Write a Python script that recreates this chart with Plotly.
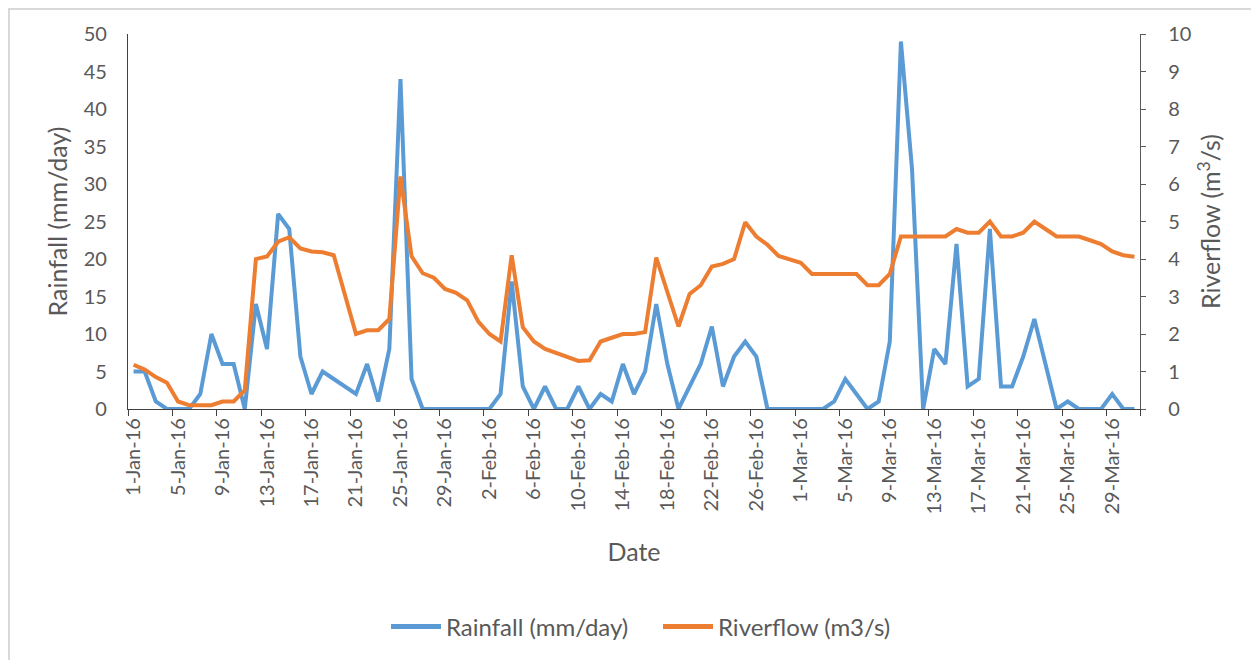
import plotly.graph_objects as go
import pandas as pd

# ---- data ----
dates = pd.date_range("2016-01-01", "2016-03-31", freq="D")

rainfall = [
    5, 5, 1, 0, 0, 0, 2, 10, 6, 6,
    0, 14, 8, 26, 24, 7, 2, 5, 4, 3,
    2, 6, 1, 8, 44, 4, 0, 0, 0, 0,
    0, 0, 0, 2, 17, 3, 0, 3, 0, 0,
    3, 0, 2, 1, 6, 2, 5, 14, 6, 0,
    3, 6, 11, 3, 7, 9, 7, 0, 0, 0,
    0, 0, 0, 1, 4, 2, 0, 1, 9, 49,
    32, 0, 8, 6, 22, 3, 4, 24, 3, 3,
    7, 12, 6, 0, 1, 0, 0, 0, 2, 0,
    0,
]

riverflow = [
    1.18, 1.05, 0.85, 0.7, 0.2, 0.1, 0.1, 0.1, 0.2, 0.2,
    0.5, 4.0, 4.07, 4.46, 4.58, 4.28, 4.2, 4.18, 4.1, 3.0,
    2.0, 2.1, 2.1, 2.4, 6.2, 4.07, 3.62, 3.5, 3.2, 3.1,
    2.9, 2.33, 2.0, 1.8, 4.1, 2.18, 1.8, 1.6, 1.5, 1.4,
    1.28, 1.3, 1.8, 1.9, 2.0, 2.0, 2.05, 4.04, 3.1, 2.2,
    3.07, 3.3, 3.8, 3.87, 4.0, 4.98, 4.6, 4.38, 4.08, 3.98,
    3.9, 3.6, 3.6, 3.6, 3.6, 3.6, 3.3, 3.3, 3.6, 4.6,
    4.6, 4.6, 4.6, 4.6, 4.8, 4.7, 4.7, 5.0, 4.6, 4.6,
    4.7, 5.0, 4.8, 4.6, 4.6, 4.6, 4.5, 4.4, 4.2, 4.1,
    4.06,
]

tick_dates = dates[::4]
tick_text = [f"{d.day}-{d.strftime('%b')}-16" for d in tick_dates]
half_day = pd.Timedelta(hours=12)
minor_ticks = [d - half_day for d in tick_dates] + [dates[-1] + half_day]

BLUE = "#5B9BD5"
ORANGE = "#ED7D31"
TXT = "#595959"
FONT = "Lato"

# The page body has an 8px default margin, so the figure starts at (8, 8).
OFF = 8
PAGE_W, PAGE_H = 1259, 662
W, H = PAGE_W - OFF, PAGE_H - OFF - 2
# plot-area edges in page pixels
L, R, T, B = 128, 1140, 34, 409


def px(x):
    return (x - L) / (R - L)


def py(y):
    return (B - y) / (B - T)


fig = go.Figure()
fig.add_trace(go.Scatter(
    x=dates, y=rainfall, name="Rainfall (mm/day)", mode="lines",
    line=dict(color=BLUE, width=4), yaxis="y",
))
fig.add_trace(go.Scatter(
    x=dates, y=riverflow, name="Riverflow (m3/s)", mode="lines",
    line=dict(color=ORANGE, width=4), yaxis="y2",
))

fig.update_layout(
    width=W, height=H,
    margin=dict(l=L - OFF, r=PAGE_W - R, t=T - OFF, b=(H + OFF) - B, autoexpand=False),
    paper_bgcolor="white", plot_bgcolor="white",
    font=dict(family=FONT, color=TXT, size=20),
    showlegend=True,
    legend=dict(
        orientation="h", x=px(658), xanchor="center", y=py(627), yanchor="middle",
        font=dict(size=24, color=TXT), itemwidth=50,
        entrywidthmode="pixels", entrywidth=207,
        bgcolor="rgba(0,0,0,0)", itemsizing="constant",
    ),
    xaxis=dict(
        type="date",
        range=[dates[0] - half_day, dates[-1] + half_day],
        tickmode="array", tickvals=list(tick_dates), ticktext=tick_text,
        tickangle=-90, ticks="", tickfont=dict(size=20, color=TXT),
        minor=dict(tickmode="array", tickvals=minor_ticks, ticks="outside",
                   ticklen=6, tickcolor="#404040", tickwidth=1.3, showgrid=False),
        showline=True, linecolor="#404040", linewidth=1.3,
        showgrid=False, zeroline=False,
        title=dict(text="Date", font=dict(size=25, color=TXT), standoff=30),
    ),
    yaxis=dict(
        range=[0, 50], tickmode="linear", tick0=0, dtick=5,
        showline=True, linecolor="#404040", linewidth=1.3,
        ticks="", ticklabelstandoff=16, tickfont=dict(size=20, color=TXT),
        showgrid=False, zeroline=False,
        title=dict(text="Rainfall (mm/day)", font=dict(size=25, color=TXT), standoff=8),
    ),
    yaxis2=dict(
        range=[0, 10], tickmode="linear", tick0=0, dtick=1,
        overlaying="y", side="right", anchor="x",
        showline=True, linecolor="#595959", linewidth=1.3,
        ticks="outside", ticklen=5, tickcolor="#595959", tickwidth=1.3,
        ticklabelstandoff=18, tickfont=dict(size=20, color=TXT),
        showgrid=False, zeroline=False,
        title=dict(text="Riverflow (m<sup>3</sup>/s)", font=dict(size=25, color=TXT), standoff=12),
    ),
    shapes=[dict(
        type="rect", xref="paper", yref="paper",
        x0=px(9), x1=px(1256), y0=py(9), y1=py(700),
        line=dict(color="#D9D9D9", width=2), fillcolor="rgba(0,0,0,0)", layer="below",
    )],
)

fig.write_html("out.html")
